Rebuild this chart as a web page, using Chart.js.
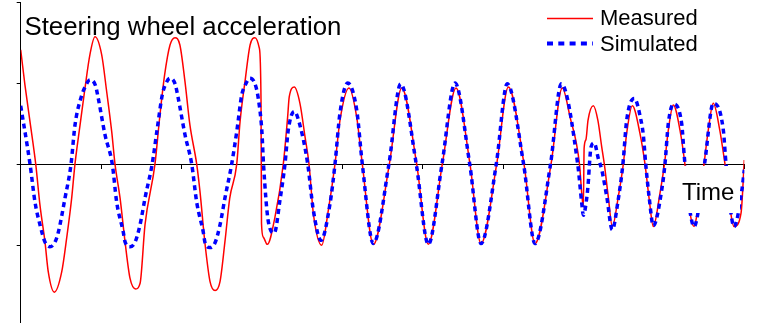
<!DOCTYPE html>
<html>
<head>
<meta charset="utf-8">
<script src="https://cdn.jsdelivr.net/npm/chart.js@4/dist/chart.umd.min.js"></script>
<style>
html,body{margin:0;padding:0;background:#fff;}
canvas{display:block;}
</style>
</head>
<body>
<canvas id="c" width="764" height="323" style="width:764px;height:323px"></canvas>
<script>
// ---- data ----
const chartTitle = "Steering wheel acceleration";
const axisTitleX = "Time";
const seriesNames = ["Measured", "Simulated"];
const xTickStep = 1;   // unlabeled ticks
const yTickStep = 1;

const measuredX = [0,0.053,0.116,0.187,0.24,0.302,0.343,0.418,0.51,0.572,0.634,0.675,0.738,0.80,0.861,0.924,1.007,1.07,1.132,1.173,1.236,1.298,1.36,1.43,1.485,1.546,1.67,1.727,1.79,1.857,1.919,1.98,2.043,2.105,2.189,2.23,2.29,2.355,2.418,2.479,2.54,2.60,2.687,2.728,2.79,2.853,2.914,2.968,2.989,2.995,3.017,3.067,3.163,3.266,3.32,3.34,3.403,3.473,3.536,3.586,3.64,3.744,3.826,3.909,3.971,4.083,4.179,4.249,4.386,4.585,4.739,4.925,5.07,5.244,5.414,5.588,5.725,5.92,6.065,6.26,6.397,6.596,6.736,6.833,6.95,6.978,6.998,7.008,7.03,7.056,7.122,7.179,7.227,7.259,7.308,7.358,7.433,7.495,7.537,7.607,7.702,7.765,7.818,7.868,7.951,8.007,8.055,8.117,8.2,8.264,8.33,8.375,8.41,8.499,8.552,8.614,8.695,8.76,8.873,8.96,9.0];
const measuredY = [1.41,0.975,0.52,0,-0.51,-0.96,-1.33,-1.58,-1.33,-0.91,-0.42,0,0.48,0.94,1.35,1.57,1.35,0.89,0.40,0,-0.42,-0.96,-1.41,-1.54,-1.47,-0.75,0,0.56,1.10,1.47,1.56,1.47,1.02,0.48,0,-0.34,-0.96,-1.45,-1.56,-1.45,-0.96,-0.42,0,0.52,1.02,1.47,1.56,1.43,0.79,-0.73,-0.90,-0.99,-0.65,0,0.58,0.83,0.95,0.75,0.34,0,-0.61,-1.0,-0.57,0,0.54,0.94,0.58,0,-0.99,0,0.94,0,-0.99,0,0.94,0,-0.98,0,0.95,0,-0.98,0,0.94,0.58,0,-0.36,-0.53,0.20,0.30,0.54,0.72,0.54,0.21,0,-0.40,-0.77,-0.40,0,0.38,0.72,0.38,0,-0.44,-0.77,-0.36,0,0.42,0.73,0.42,-0.02,-0.63,-0.77,-0.63,0,0.42,0.75,0.42,0,-0.77,-0.60,0.05];

const simulatedX = [0,0.116,0.178,0.24,0.302,0.364,0.427,0.468,0.551,0.626,0.675,0.759,0.80,0.862,0.93,0.965,1.049,1.139,1.194,1.276,1.298,1.36,1.423,1.484,1.55,1.635,1.70,1.76,1.795,1.857,1.92,1.96,2.044,2.127,2.189,2.271,2.293,2.355,2.417,2.479,2.54,2.624,2.687,2.749,2.79,2.852,2.914,2.955,3.0,3.02,3.08,3.154,3.225,3.287,3.328,3.403,3.473,3.57,3.64,3.735,3.847,3.909,3.971,4.067,4.179,4.249,4.386,4.58,4.726,4.92,5.07,5.24,5.402,5.585,5.725,5.915,6.052,6.255,6.397,6.59,6.724,6.928,6.978,6.998,7.04,7.06,7.074,7.093,7.134,7.184,7.227,7.289,7.358,7.43,7.49,7.537,7.633,7.715,7.744,7.774,7.818,7.868,7.973,8.013,8.055,8.117,8.221,8.254,8.30,8.375,8.505,8.614,8.739,8.773,8.873,8.97,9.0];
const simulatedY = [0.72,0,-0.47,-0.75,-0.96,-1.02,-0.96,-0.84,-0.42,0,0.48,0.85,0.95,1.04,0.97,0.81,0.36,0,-0.47,-0.84,-0.96,-1.02,-0.96,-0.75,-0.40,0,0.45,0.85,0.97,1.06,0.99,0.81,0.36,0,-0.47,-0.84,-0.97,-1.03,-0.97,-0.75,-0.42,0,0.40,0.85,0.97,1.06,0.99,0.81,0.40,0,-0.71,-0.85,-0.44,0,0.42,0.65,0.48,0,-0.57,-0.94,-0.49,0,0.63,1.0,0.67,0,-0.98,0,0.99,0,-0.99,0,1.0,0,-0.98,0,0.99,0,-0.98,0,0.99,0,-0.48,-0.63,-0.42,-0.22,0,0.21,0.26,0.07,-0.07,-0.40,-0.81,-0.45,0,0.54,0.81,0.54,0.36,0,-0.42,-0.76,-0.32,0,0.50,0.74,0.50,0.09,-0.40,-0.77,0,0.75,0.42,0,-0.77,-0.32,-0.07];

const toPoints = (xs, ys) => xs.map((x, i) => ({x: x, y: ys[i]}));

const FONT = '"Liberation Sans", Arial, Helvetica, sans-serif';

const overlay = {
  id: 'overlay',
  afterDraw(chart) {
    const ctx = chart.ctx;
    const dsets = chart.data.datasets;
    ctx.save();
    // title
    ctx.fillStyle = '#000';
    ctx.textBaseline = 'alphabetic';
    ctx.textAlign = 'left';
    ctx.font = '25.8px ' + FONT;
    ctx.fillText(chartTitle, 24.5, 35);
    // legend
    ctx.font = '22px ' + FONT;
    const rows = [{y: 18.5, base: 25}, {y: 43.5, base: 50.5}];
    dsets.forEach((ds, i) => {
      const r = rows[i];
      ctx.beginPath();
      ctx.strokeStyle = ds.borderColor;
      ctx.lineWidth = i === 0 ? 1.6 : 4;
      ctx.setLineDash(i === 0 ? [] : [6, 5.3]);
      ctx.moveTo(547, r.y);
      ctx.lineTo(593, r.y);
      ctx.stroke();
      ctx.setLineDash([]);
      ctx.fillStyle = '#000';
      ctx.fillText(ds.label, 600, r.base);
    });
    // x-axis title with white background
    ctx.fillStyle = '#fff';
    ctx.fillRect(679, 166, 61, 47);
    ctx.fillStyle = '#000';
    ctx.font = '24px ' + FONT;
    ctx.fillText(axisTitleX, 682, 199.5);
    ctx.restore();
  }
};

new Chart(document.getElementById('c'), {
  type: 'line',
  data: {
    datasets: [
      {
        label: seriesNames[0],
        data: toPoints(measuredX, measuredY),
        borderColor: '#ff0000',
        borderWidth: 1.5,
        pointRadius: 0,
        cubicInterpolationMode: 'monotone',
        fill: false,
        order: 1
      },
      {
        label: seriesNames[1],
        data: toPoints(simulatedX, simulatedY),
        borderColor: '#0000ff',
        borderWidth: 3.5,
        borderDash: [5, 4],
        pointRadius: 0,
        cubicInterpolationMode: 'monotone',
        fill: false,
        order: 0
      }
    ]
  },
  options: {
    responsive: false,
    animation: false,
    events: [],
    layout: {padding: {left: 16.7, top: 2, right: 19.7, bottom: 0}},
    plugins: {legend: {display: false}, title: {display: false}, tooltip: {enabled: false}},
    scales: {
      x: {
        type: 'linear', min: 0, max: 9,
        position: {y: 0},
        ticks: {display: false, stepSize: xTickStep},
        grid: {drawOnChartArea: false, drawTicks: true, tickLength: 4, color: '#000', lineWidth: 1},
        border: {display: true, color: '#000', width: 1}
      },
      y: {
        type: 'linear', min: -1.96, max: 2,
        position: 'left',
        ticks: {display: false, stepSize: yTickStep},
        grid: {drawOnChartArea: false, drawTicks: true, tickLength: 4, color: '#000', lineWidth: 1},
        border: {display: true, color: '#000', width: 1}
      }
    }
  },
  plugins: [overlay]
});
</script>
</body>
</html>
